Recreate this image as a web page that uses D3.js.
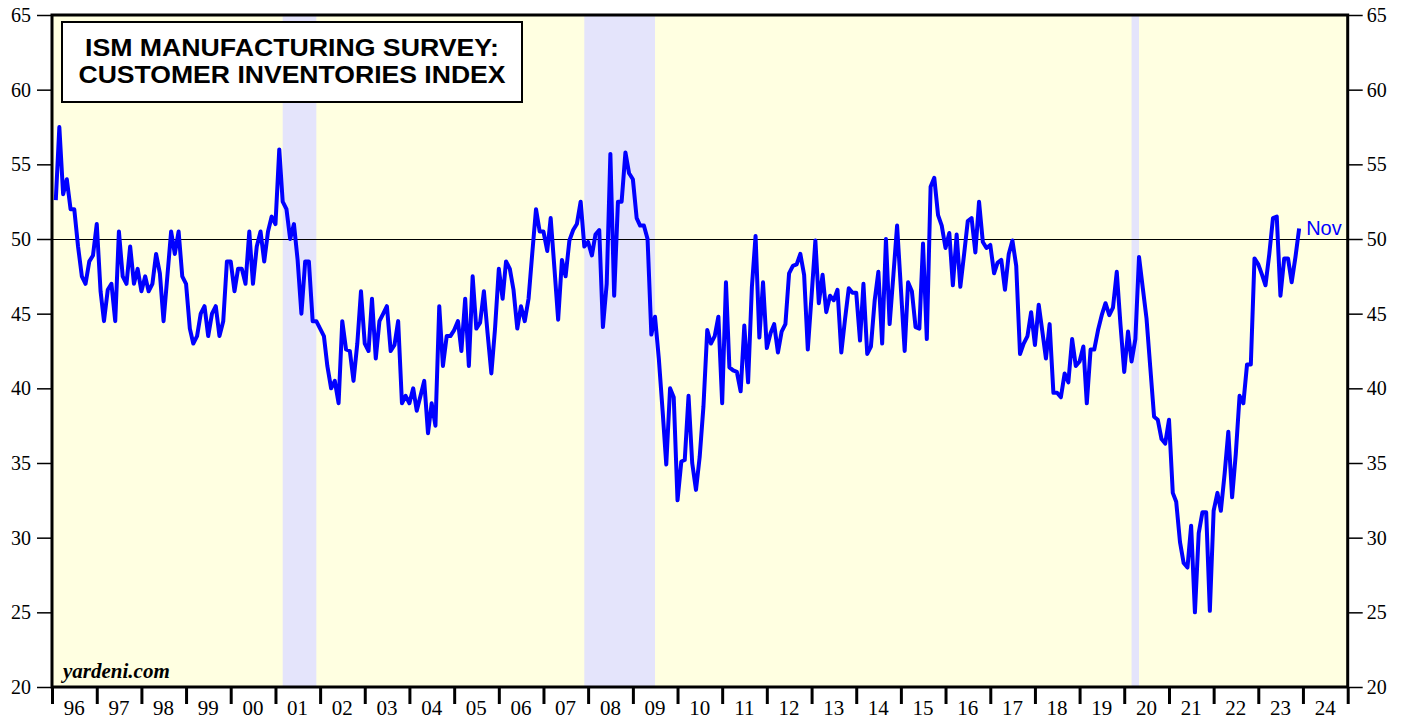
<!DOCTYPE html>
<html>
<head>
<meta charset="utf-8">
<script src="https://cdn.jsdelivr.net/npm/d3@7"></script>
<style>
  body { margin: 0; background: #fff; }
  svg { display: block; }
</style>
</head>
<body>
<script>
// ISM manufacturing survey: customer inventories index, monthly from Jan 1996

const firstYear = 1996;
const lastYear = 2024;

const inventoriesIndex = [
    // 1996
    52.6, 57.5, 53.0, 54.0, 52.0, 52.0, 49.5, 47.5, 47.0, 48.5, 48.9, 51.0,
    // 1997
    46.5, 44.5, 46.6, 47.0, 44.5, 50.5, 47.5, 47.0, 49.5, 47.0, 48.0, 46.5,
    // 1998
    47.5, 46.5, 47.0, 49.0, 47.7, 44.5, 47.5, 50.5, 49.0, 50.5, 47.5, 47.0,
    // 1999
    44.0, 43.0, 43.5, 45.0, 45.5, 43.5, 45.0, 45.5, 43.5, 44.5, 48.5, 48.5,
    // 2000
    46.5, 48.0, 48.0, 47.0, 50.5, 47.0, 49.5, 50.5, 48.5, 50.5, 51.5, 51.0,
    // 2001
    56.0, 52.5, 52.0, 50.0, 51.0, 48.6, 45.0, 48.5, 48.5, 44.5, 44.5, 44.0,
    // 2002
    43.5, 41.5, 40.0, 40.5, 39.0, 44.5, 42.6, 42.5, 40.5, 43.0, 46.5, 43.0,
    // 2003
    42.5, 46.0, 42.0, 44.5, 45.0, 45.5, 42.5, 42.9, 44.5, 39.0, 39.5, 39.0,
    // 2004
    40.0, 38.5, 39.5, 40.5, 37.0, 39.0, 37.5, 45.5, 41.5, 43.5, 43.5, 43.9,
    // 2005
    44.5, 42.5, 46.0, 41.5, 47.5, 44.0, 44.4, 46.5, 43.7, 41.0, 44.0, 48.0,
    // 2006
    46.0, 48.5, 48.0, 46.6, 44.0, 45.5, 44.5, 46.0, 49.0, 52.0, 50.5, 50.5,
    // 2007
    49.2, 51.4, 48.0, 44.6, 48.6, 47.5, 49.9, 50.6, 51.0, 52.5, 49.5, 49.8,
    // 2008
    48.9, 50.3, 50.6, 44.1, 47.0, 55.7, 46.2, 52.5, 52.5, 55.8, 54.4, 54.0,
    // 2009
    51.4, 50.9, 50.9, 50.0, 43.6, 44.8, 42.0, 38.5, 34.9, 40.0, 39.4, 32.5,
    // 2010
    35.1, 35.2, 39.5, 35.0, 33.2, 35.4, 38.8, 43.9, 43.0, 43.5, 44.8, 39.0,
    // 2011
    47.1, 41.4, 41.2, 41.1, 39.8, 44.2, 40.4, 46.8, 50.2, 43.4, 47.1, 42.7,
    // 2012
    43.7, 44.3, 42.4, 43.8, 44.3, 47.7, 48.2, 48.3, 49.0, 47.6, 42.6, 46.2,
    // 2013
    49.9, 45.7, 47.6, 45.1, 46.2, 45.9, 46.6, 42.4, 44.6, 46.7, 46.4, 46.4,
    // 2014
    43.2, 47.0, 42.3, 42.8, 45.9, 47.8, 43.0, 50.0, 44.3, 47.6, 50.9, 46.7,
    // 2015
    42.5, 47.1, 46.5, 44.1, 44.0, 49.7, 43.3, 53.5, 54.1, 51.6, 50.9, 49.4,
    // 2016
    50.4, 46.9, 50.3, 46.8, 49.0, 51.2, 51.4, 49.1, 52.5, 49.8, 49.4, 49.6,
    // 2017
    47.7, 48.4, 48.6, 46.6, 49.0, 49.9, 48.2, 42.3, 43.0, 43.5, 45.1, 42.9,
    // 2018
    45.6, 43.9, 42.0, 44.3, 39.7, 39.7, 39.4, 41.0, 40.4, 43.3, 41.5, 41.8,
    // 2019
    42.8, 39.0, 42.6, 42.6, 43.9, 44.9, 45.7, 44.9, 45.4, 47.8, 44.3, 41.1,
    // 2020
    43.8, 41.8, 43.3, 48.8, 46.7, 44.7, 41.4, 38.1, 37.9, 36.6, 36.3, 37.9,
    // 2021
    33.0, 32.4, 29.7, 28.3, 28.0, 30.8, 25.0, 30.3, 31.7, 31.7, 25.1, 31.8,
    // 2022
    33.0, 31.8, 34.3, 37.1, 32.7, 35.6, 39.5, 39.0, 41.6, 41.6, 48.7, 48.3,
    // 2023
    47.6, 46.9, 49.0, 51.4, 51.5, 46.2, 48.7, 48.7, 47.1, 48.8, 50.7
];

// recession periods as [year, month] pairs (month 0-based, end exclusive)
const recessionStarts = [[2001, 2], [2007, 11], [2020, 2]];
const recessionEnds = [[2001, 11], [2009, 6], [2020, 4]];

const yTicks = [20, 25, 30, 35, 40, 45, 50, 55, 60, 65];
const yearLabels = ['96', '97', '98', '99', '00', '01', '02', '03', '04', '05',
    '06', '07', '08', '09', '10', '11', '12', '13', '14', '15', '16', '17', '18',
    '19', '20', '21', '22', '23', '24'];
const titleLines = ['ISM MANUFACTURING SURVEY:', 'CUSTOMER INVENTORIES INDEX'];
const lastLabel = 'Nov';

const width = 1407;
const height = 719;
const plotLeft = 52, plotRight = 1347.7, plotTop = 15, plotBottom = 687;

const svg = d3.select('body')
    .append('svg')
    .attr('width', width)
    .attr('height', height);

const x = d3.scaleTime()
    .domain([new Date(firstYear, 0, 1), new Date(lastYear + 1, 0, 1)])
    .range([plotLeft, plotRight]);

const y = d3.scaleLinear()
    .domain([20, 65])
    .range([plotBottom, plotTop]);

// each value is plotted at the end of its month
const monthDate = i => new Date(firstYear, i + 1, 1);

// plot background
svg.append('rect')
    .attr('x', plotLeft)
    .attr('y', plotTop)
    .attr('width', plotRight - plotLeft)
    .attr('height', plotBottom - plotTop)
    .style('fill', '#ffffe1');

// recession shading
recessionStarts.forEach((s, i) => {
    const e = recessionEnds[i];
    const x0 = x(new Date(s[0], s[1], 1));
    const x1 = x(new Date(e[0], e[1], 1));
    svg.append('rect')
        .attr('x', x0)
        .attr('y', plotTop)
        .attr('width', x1 - x0)
        .attr('height', plotBottom - plotTop)
        .style('fill', '#e4e4fb');
});

// reference line at 50
svg.append('line')
    .attr('x1', plotLeft)
    .attr('x2', plotRight)
    .attr('y1', y(50) + 0.5)
    .attr('y2', y(50) + 0.5)
    .style('stroke', '#000')
    .style('stroke-width', 1)
    .style('shape-rendering', 'crispEdges');

// data line
const line = d3.line()
    .x((d, i) => x(monthDate(i)))
    .y(d => y(d));

svg.append('path')
    .datum(inventoriesIndex)
    .attr('d', line)
    .style('fill', 'none')
    .style('stroke', '#0000ff')
    .style('stroke-width', 4)
    .style('stroke-linejoin', 'round');

// frame
svg.append('rect')
    .attr('x', plotLeft)
    .attr('y', plotTop)
    .attr('width', plotRight - plotLeft)
    .attr('height', plotBottom - plotTop)
    .style('fill', 'none')
    .style('stroke', '#000')
    .style('stroke-width', 3);

// y axes on both sides
function styleYAxis(g) {
    g.select('.domain').remove();
    g.selectAll('.tick line').style('stroke', '#000').style('stroke-width', 1.5);
    g.selectAll('.tick text')
        .style('font-family', '"Liberation Serif", "Times New Roman", serif')
        .style('font-size', '20px')
        .style('fill', '#000');
}

svg.append('g')
    .attr('transform', `translate(${plotLeft},0)`)
    .call(d3.axisLeft(y).tickValues(yTicks).tickSize(15).tickPadding(6))
    .call(styleYAxis);

svg.append('g')
    .attr('transform', `translate(${plotRight},0)`)
    .call(d3.axisRight(y).tickValues(yTicks).tickSize(15).tickPadding(4))
    .call(styleYAxis);

// x axis: year boundary ticks, labels centred in each year
const yearStarts = d3.range(firstYear, lastYear + 2).map(yr => new Date(yr, 0, 1));

const xAxis = svg.append('g')
    .attr('transform', `translate(0,${plotBottom})`)
    .call(d3.axisBottom(x).tickValues(yearStarts).tickSize(17).tickFormat(''));
xAxis.select('.domain').remove();
xAxis.selectAll('.tick line').style('stroke', '#000').style('stroke-width', 3);

svg.append('g')
    .selectAll('text')
    .data(yearLabels)
    .join('text')
    .attr('x', (d, i) => x(new Date(firstYear + i, 6, 1)))
    .attr('y', 715)
    .attr('text-anchor', 'middle')
    .style('font-family', '"Liberation Serif", "Times New Roman", serif')
    .style('font-size', '21px')
    .style('fill', '#000')
    .text(d => d);

// title box
svg.append('rect')
    .attr('x', 62)
    .attr('y', 22)
    .attr('width', 460)
    .attr('height', 80)
    .style('fill', '#fff')
    .style('stroke', '#000')
    .style('stroke-width', 2);

svg.append('g')
    .selectAll('text')
    .data(titleLines)
    .join('text')
    .attr('x', 292)
    .attr('y', (d, i) => 56 + i * 27)
    .attr('text-anchor', 'middle')
    .attr('textLength', (d, i) => i === 0 ? 414 : 427)
    .attr('lengthAdjust', 'spacingAndGlyphs')
    .style('font-family', '"Liberation Sans", Arial, sans-serif')
    .style('font-weight', 'bold')
    .style('font-size', '23px')
    .style('fill', '#000')
    .text(d => d);

// source
svg.append('text')
    .attr('x', 63)
    .attr('y', 678)
    .style('font-family', '"Liberation Serif", "Times New Roman", serif')
    .style('font-weight', 'bold')
    .style('font-style', 'italic')
    .style('font-size', '21px')
    .style('fill', '#000')
    .text('yardeni.com');

// latest month label
const lastIndex = inventoriesIndex.length - 1;
svg.append('text')
    .attr('x', x(monthDate(lastIndex)) + 7)
    .attr('y', y(inventoriesIndex[lastIndex]) + 6)
    .style('font-family', '"Liberation Sans", Arial, sans-serif')
    .style('font-size', '20px')
    .style('fill', '#0000ff')
    .text(lastLabel);
</script>
</body>
</html>
